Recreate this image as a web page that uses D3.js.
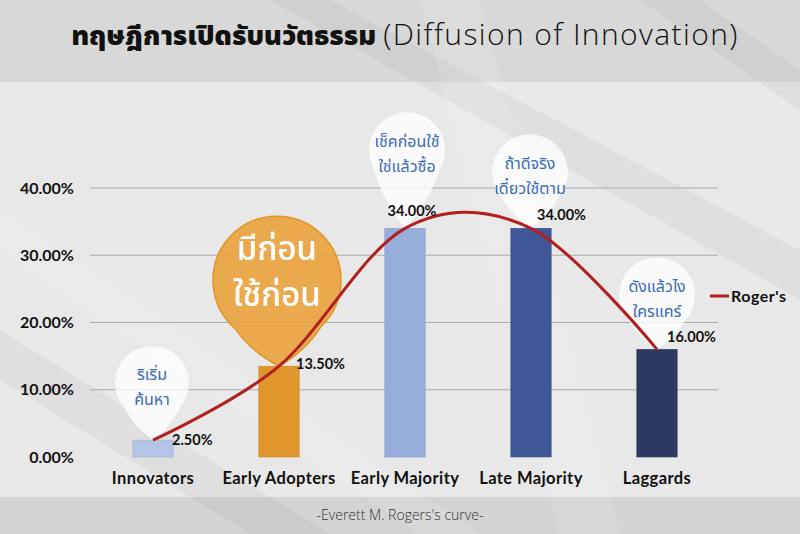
<!DOCTYPE html>
<html lang="th">
<head>
  <meta charset="UTF-8" />
  <title>Diffusion of Innovation</title>
  <script src="https://d3js.org/d3.v7.min.js"></script>
  <style>
    body { margin: 0; background: #e8e8e8; }
    svg { display: block; }
  </style>
</head>
<body>
  <svg id="chart" width="800" height="534"></svg>

  <script>
    // data
    const categories = ["Innovators", "Early Adopters", "Early Majority", "Late Majority", "Laggards"];
    const shares = [0.025, 0.135, 0.34, 0.34, 0.16];
    const rogers = [0.025, 0.135, 0.34, 0.34, 0.16];
    const pinTexts = [
      ["ริเริ่ม", "ค้นหา"],
      ["มีก่อน", "ใช้ก่อน"],
      ["เช็คก่อนใช้", "ใช่แล้วซื้อ"],
      ["ถ้าดีจริง", "เดี๋ยวใช้ตาม"],
      ["ดังแล้วไง", "ใครแคร์"]
    ];
    const yTicks = [0, 0.1, 0.2, 0.3, 0.4];

    // layout bits
    const barColors = ["#b4c4e7", "#e0962c", "#97aedd", "#3f5796", "#2c3a63"];
    const labelPos = [[19, 0], [17, -2], [7, -17], [6, -13], [10, -12]];   // dx, dy from bar top centre
    const labelAnchor = ["start", "start", "middle", "start", "start"];
    const pinPos = [[-1, -57, 37], [-2, -86, 64], [2, -78, 38], [-1, -56, 38], [0, -54, 38]]; // dx, dy, r

    const svg = d3.select("#chart");
    const W = 800, H = 534;

    // background bands
    svg.append("rect").attr("width", W).attr("height", H).attr("fill", "#e8e8e8");
    svg.append("rect").attr("width", W).attr("height", 82).attr("fill", "#d8d8d8");
    svg.append("rect").attr("y", 497).attr("width", W).attr("height", 37).attr("fill", "#d3d3d3");

    // soft diagonal streaks
    const streaks = [
      [[270, 0], [330, 0], [800, 250], [800, 300]],
      [[420, 0], [480, 0], [620, 534], [560, 534]],
      [[640, 0], [700, 0], [800, 70], [800, 110]],
      [[0, 210], [0, 250], [420, 534], [480, 534]],
      [[0, 330], [0, 380], [250, 534], [330, 534]]
    ];
    svg.append("g").selectAll("polygon").data(streaks).join("polygon")
      .attr("points", d => d.map(p => p.join(",")).join(" "))
      .attr("fill", (d, i) => i % 2 ? "#ffffff" : "#000000")
      .attr("opacity", (d, i) => i % 2 ? 0.12 : 0.035);

    // title
    const title = svg.append("text")
      .attr("x", 405).attr("y", 45)
      .attr("text-anchor", "middle")
      .attr("fill", "#111");
    title.append("tspan")
      .attr("font-family", "'Noto Sans Thai', Tahoma, 'DejaVu Sans', sans-serif")
      .attr("font-weight", 900)
      .attr("font-size", 27)
      .text("ทฤษฎีการเปิดรับนวัตธรรม ");
    title.append("tspan")
      .attr("font-family", "'Open Sans', 'Noto Sans', sans-serif")
      .attr("font-weight", 300)
      .attr("font-size", 30)
      .attr("letter-spacing", 1.4)
      .text("(Diffusion of Innovation)");

    // scales
    const x = d3.scaleBand()
      .domain(categories)
      .range([90, 720])
      .paddingInner(0.68)
      .paddingOuter(0.34);
    const y = d3.scaleLinear().domain([0, 0.4]).range([457, 188]);
    const cx = c => x(c) + x.bandwidth() / 2;

    // gridlines
    svg.append("g").selectAll("line").data(yTicks.filter(t => t > 0)).join("line")
      .attr("x1", 90).attr("x2", 718)
      .attr("y1", d => y(d)).attr("y2", d => y(d))
      .attr("stroke", "#ababab").attr("stroke-width", 1);

    // y axis
    const yAxis = svg.append("g")
      .attr("transform", "translate(90,0)")
      .call(d3.axisLeft(y).tickValues(yTicks).tickFormat(d3.format(".2%")).tickSize(0).tickPadding(16));
    yAxis.select(".domain").remove();
    yAxis.selectAll("text")
      .attr("font-family", "Lato, 'Noto Sans', sans-serif")
      .attr("font-weight", 700)
      .attr("font-size", 16)
      .attr("fill", "#111");

    // x axis
    const xAxis = svg.append("g")
      .attr("transform", "translate(0,457)")
      .call(d3.axisBottom(x).tickSize(0).tickPadding(15));
    xAxis.select(".domain").remove();
    xAxis.selectAll("text")
      .attr("font-family", "Lato, 'Noto Sans', sans-serif")
      .attr("font-weight", 700)
      .attr("font-size", 16.5)
      .attr("letter-spacing", 0.4)
      .attr("fill", "#111");

    // bars
    svg.append("g").selectAll("rect").data(categories).join("rect")
      .attr("x", d => x(d))
      .attr("y", (d, i) => y(shares[i]))
      .attr("width", x.bandwidth())
      .attr("height", (d, i) => y(0) - y(shares[i]))
      .attr("fill", (d, i) => barColors[i])
      .attr("stroke", (d, i) => d3.color(barColors[i]).darker(0.3))
      .attr("stroke-width", 0.6);

    // pins
    function pinPath(tx, ty, pcx, pcy, r) {
      const dx = tx - pcx, dy = ty - pcy;
      const d = Math.hypot(dx, dy);
      const base = Math.atan2(dy, dx);
      const a = Math.acos(r / d);
      const p1 = [pcx + r * Math.cos(base + a), pcy + r * Math.sin(base + a)];
      const p2 = [pcx + r * Math.cos(base - a), pcy + r * Math.sin(base - a)];
      const c1 = [p1[0] + (tx - p1[0]) * 0.35, p1[1] + (ty - p1[1]) * 0.6];
      const c2 = [p2[0] + (tx - p2[0]) * 0.35, p2[1] + (ty - p2[1]) * 0.6];
      return `M${tx},${ty} Q${c1[0]},${c1[1]} ${p1[0]},${p1[1]} A${r},${r} 0 1 1 ${p2[0]},${p2[1]} Q${c2[0]},${c2[1]} ${tx},${ty} Z`;
    }

    const pins = svg.append("g").selectAll("g").data(categories).join("g");
    pins.append("path")
      .attr("d", (d, i) => {
        const tx = cx(d), ty = y(shares[i]);
        const [pdx, pdy, r] = pinPos[i];
        return pinPath(tx, ty, tx + pdx, ty + pdy, r);
      })
      .attr("fill", (d, i) => i === 1 ? "#e9a23b" : "#ffffff")
      .attr("fill-opacity", (d, i) => i === 1 ? 0.9 : 0.78)
      .attr("stroke", (d, i) => i === 1 ? "#e39427" : "none")
      .attr("stroke-width", 1.5);

    pins.each(function (d, i) {
      const tx = cx(d), ty = y(shares[i]);
      const [pdx, pdy] = pinPos[i];
      const big = i === 1;
      const t = d3.select(this).append("text")
        .attr("text-anchor", "middle")
        .attr("font-family", "'Noto Sans Thai', Tahoma, 'DejaVu Sans', sans-serif")
        .attr("font-size", big ? 33 : 16)
        .attr("font-weight", big ? 500 : 400)
        .attr("fill", big ? "#ffffff" : "#3a6cb6");
      pinTexts[i].forEach((line, k) => {
        t.append("tspan")
          .attr("x", tx + pdx)
          .attr("y", big ? ty + pdy - 20 + k * 46 : ty + pdy - 3 + k * 25)
          .text(line);
      });
    });

    // Roger's curve
    const line = d3.line()
      .x((d, i) => cx(categories[i]))
      .y(d => y(d))
      .curve(d3.curveCatmullRom.alpha(0));
    svg.append("path")
      .datum(rogers)
      .attr("d", line)
      .attr("fill", "none")
      .attr("stroke", "#b0201f")
      .attr("stroke-width", 3);

    // value labels
    svg.append("g").selectAll("text").data(categories).join("text")
      .attr("x", (d, i) => cx(d) + labelPos[i][0])
      .attr("y", (d, i) => y(shares[i]) + labelPos[i][1])
      .attr("dy", "0.35em")
      .attr("text-anchor", (d, i) => labelAnchor[i])
      .attr("font-family", "Lato, 'Noto Sans', sans-serif")
      .attr("font-weight", 700)
      .attr("font-size", 14.5)
      .attr("fill", "#111")
      .text((d, i) => d3.format(".2%")(shares[i]));

    // legend
    const legend = svg.append("g").attr("transform", "translate(710,296)");
    legend.append("line").attr("x1", 0).attr("x2", 19).attr("stroke", "#b0201f").attr("stroke-width", 3);
    legend.append("text")
      .attr("x", 21).attr("dy", "0.35em")
      .attr("font-family", "Lato, 'Noto Sans', sans-serif")
      .attr("font-weight", 700)
      .attr("font-size", 16)
      .attr("letter-spacing", 0.5)
      .attr("fill", "#111")
      .text("Roger's");

    // footer
    svg.append("text")
      .attr("x", 400).attr("y", 520)
      .attr("text-anchor", "middle")
      .attr("font-family", "'Open Sans', 'Noto Sans', sans-serif")
      .attr("font-weight", 300)
      .attr("font-size", 14)
      .attr("fill", "#333")
      .text("-Everett M. Rogers's curve-");
  </script>
</body>
</html>
